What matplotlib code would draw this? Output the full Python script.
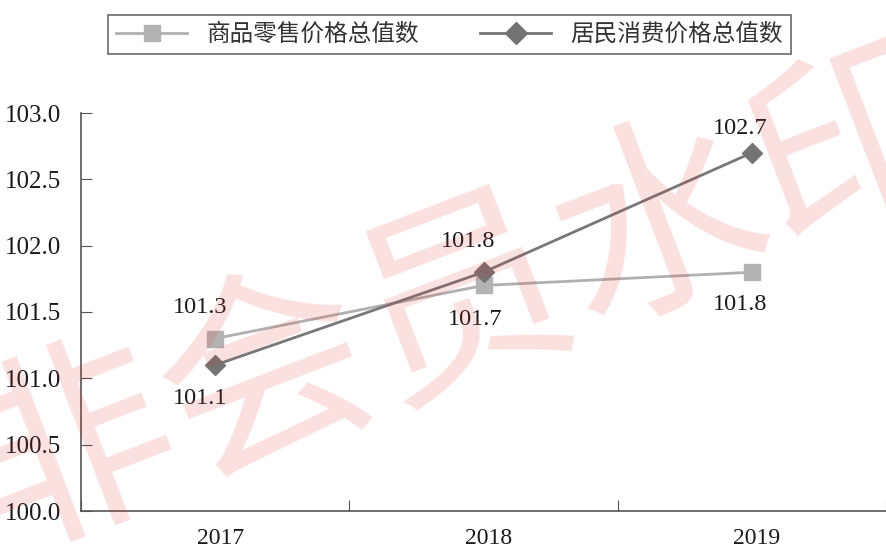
import matplotlib
matplotlib.use("Agg")
import matplotlib.pyplot as plt
import matplotlib.transforms as mtrans
from matplotlib.lines import Line2D

years = ["2017", "2018", "2019"]
retail = [101.3, 101.7, 101.8]
consumer = [101.1, 101.8, 102.7]
retail_name = "商品零售价格总值数"
consumer_name = "居民消费价格总值数"
yticks = [100.0, 100.5, 101.0, 101.5, 102.0, 102.5, 103.0]

serif = ["Liberation Serif", "DejaVu Serif"]
cjk = ["Noto Sans CJK SC", "DejaVu Sans"]

fig = plt.figure(figsize=(8.86, 5.48), dpi=100)
ax = fig.add_axes([81/886, 1-511/548, (886-81)/886, (511-113)/548])

x = list(range(len(years)))
c1 = "#b3b3b3"
c2 = "#737373"
ax.plot(x, retail, color="#b0b0b0", lw=2, marker="s", ms=11, mfc=c1, mec=c1, zorder=3)
ax.plot(x, consumer, color="#777777", lw=2, marker="D", ms=10, mfc=c2, mec=c2, zorder=4)

# labels (offsets in pixels: dx, dy)
offs_r = [(-15, 31), (-8, -34), (-12, -32)]
offs_c = [(-15, -33), (-15, 31), (-12, 24)]
for i, v in enumerate(retail):
    ax.annotate(f"{v:.1f}", (i, v), xytext=offs_r[i], textcoords="offset pixels",
                ha="center", va="center", fontsize=17.5, family=serif, color="#1a1a1a")
for i, v in enumerate(consumer):
    ax.annotate(f"{v:.1f}", (i, v), xytext=offs_c[i], textcoords="offset pixels",
                ha="center", va="center", fontsize=17.5, family=serif, color="#1a1a1a")

ax.set_xlim(-0.5, 2.5)
ax.set_ylim(100.0, 103.0)
ax.set_yticks(yticks)
ax.set_yticklabels([f"{t:.1f}" for t in yticks], family=serif, fontsize=18, color="#1a1a1a")
ax.set_xticks([-0.5, 0.5, 1.5, 2.5])
ax.set_xticklabels([])
ax.set_xticks(x, minor=True)
ax.set_xticklabels(years, minor=True, family=serif, fontsize=17, color="#1a1a1a")
ax.tick_params(axis="x", which="major", direction="in", length=8, color="#555555")
ax.tick_params(axis="x", which="minor", length=0, pad=12)
ax.tick_params(axis="y", direction="in", length=8, color="#555555", pad=14)
shift = mtrans.ScaledTranslation(5/100, 0, fig.dpi_scale_trans)
for lab in ax.get_xticklabels(minor=True):
    lab.set_transform(lab.get_transform() + shift)
for s in ["top", "right"]:
    ax.spines[s].set_visible(False)
for s in ["left", "bottom"]:
    ax.spines[s].set_color("#555555")
    ax.spines[s].set_linewidth(1.2)

handles = [
    Line2D([0], [0], color="#b0b0b0", lw=2, marker="s", ms=12, mfc=c1, mec=c1),
    Line2D([0], [0], color="#777777", lw=2, marker="D", ms=11, mfc=c2, mec=c2),
]
leg = fig.legend(handles, [retail_name, consumer_name], loc="center",
                 bbox_to_anchor=(449.5/886, 1-34.5/548), ncol=2, frameon=True,
                 fancybox=False, edgecolor="#444444", handlelength=3.0,
                 columnspacing=2.6, borderpad=0.35, prop={"family": cjk, "size": 17})
leg.get_frame().set_linewidth(1.2)
for t in leg.get_texts():
    t.set_color("#333333")

# watermark
fig.text(0.525, 0.445, "非会员水印", fontsize=152, family=cjk, color="#e83030", alpha=0.15,
         rotation=21, ha="center", va="center", zorder=10)

fig.savefig("out.png", dpi=100)
